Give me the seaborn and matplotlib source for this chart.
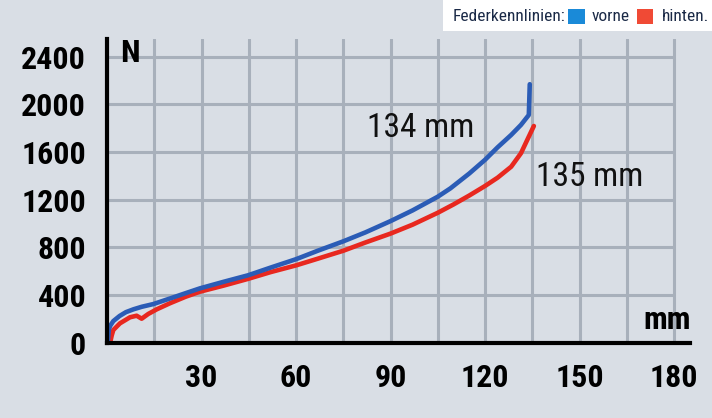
import matplotlib
matplotlib.use("Agg")
import matplotlib.pyplot as plt
from matplotlib import font_manager as fm
from matplotlib.patches import Rectangle
import seaborn as sns
import pandas as pd

# ---------------- data ----------------
front_travel = [0.3, 0.6, 1, 2, 4, 6, 8.4, 11, 14.7, 20, 25, 29.5, 37, 44.8, 52,
                60, 67, 75, 82, 90, 97, 105, 109, 115, 120, 124, 128.3, 131.4,
                133.9, 134.2]
front_force = [20, 110, 140, 180, 223, 255, 279, 300, 323, 370, 415, 455, 510,
               565, 630, 700, 772, 850, 925, 1020, 1110, 1225, 1295, 1420, 1535,
               1640, 1744, 1828, 1912, 2170]

rear_travel = [1, 1.5, 2, 4.1, 7.3, 9.4, 11, 13.1, 15.8, 20, 25, 29.5, 37, 44.8,
               52, 60, 67, 75, 82, 90, 97, 105, 110, 115, 120, 124, 128.3, 131.4,
               133.4, 135.5]
rear_force = [0, 60, 105, 161, 212, 225, 200, 240, 279, 330, 385, 427, 478, 535,
              592, 648, 705, 771, 840, 915, 990, 1090, 1160, 1235, 1315, 1385,
              1477, 1590, 1702, 1819]

x_ticks = [15, 30, 45, 60, 75, 90, 105, 120, 135, 150, 165, 180]
x_tick_labels = ["", "30", "", "60", "", "90", "", "120", "", "150", "", "180"]
y_ticks = [0, 400, 800, 1200, 1600, 2000, 2400]
y_tick_labels = ["0", "400", "800", "1200", "1600", "2000", "2400"]

legend_title = "Federkennlinien:"
series_names = ["vorne", "hinten."]
end_labels = ["134 mm", "135 mm"]
y_unit = "N"
x_unit = "mm"

# ---------------- style ----------------
BG = "#d9dee5"
GRID = "#a8b0bb"
LINE_BLUE = "#2b5cb6"
LINE_RED = "#e8281f"
SQ_BLUE = "#1a8ad8"
SQ_RED = "#f04a35"
TXT_LEG = "#1b2a47"

sns.set_style("white", rc={"axes.facecolor": BG, "figure.facecolor": BG})


def pick_font():
    entries = fm.fontManager.ttflist
    names = {e.name for e in entries}
    for cand in ["Liberation Sans Narrow", "Roboto Condensed", "Open Sans Condensed",
                 "Noto Sans Condensed", "DejaVu Sans Condensed", "Lato Condensed"]:
        if cand in names:
            return dict(family=cand), 1.0
    for pref in ["Roboto", "Noto Sans", "DejaVu Sans", "Open Sans"]:
        for e in entries:
            if e.name == pref and str(e.stretch) in ("condensed", "semi-condensed"):
                return dict(family=pref, stretch=e.stretch), 1.0
    return dict(family="Liberation Sans"), 0.82


FONT, SCALE = pick_font()
plt.rcParams["font.family"] = [FONT["family"], "DejaVu Sans"]
if "stretch" in FONT:
    plt.rcParams["font.stretch"] = FONT["stretch"]

fig = plt.figure(figsize=(7.12, 4.18), dpi=100, facecolor=BG)
ax = fig.add_axes([0.1503, 0.1806, 0.8185, 0.7261])
ax.set_facecolor(BG)

front = pd.DataFrame({"travel": front_travel, "force": front_force})
rear = pd.DataFrame({"travel": rear_travel, "force": rear_force})

sns.lineplot(data=rear, x="travel", y="force", ax=ax, color=LINE_RED, lw=3.3,
             estimator=None, sort=False, zorder=3)
sns.lineplot(data=front, x="travel", y="force", ax=ax, color=LINE_BLUE, lw=3.3,
             estimator=None, sort=False, zorder=3)

ax.set_xlim(0, 185)
ax.set_ylim(0, 2550)
ax.set_xlabel("")
ax.set_ylabel("")

ax.set_axisbelow(True)
ax.set_xticks(x_ticks)
ax.set_xticklabels(x_tick_labels)
ax.set_yticks(y_ticks)
ax.set_yticklabels(y_tick_labels)
ax.grid(axis="x", color=GRID, lw=2.2)
ax.grid(axis="y", visible=False)
ax.hlines(y_ticks[1:], 0, x_ticks[-1], color=GRID, lw=2.2, zorder=0.5)

for s in ["top", "right"]:
    ax.spines[s].set_visible(False)
for s in ["left", "bottom"]:
    ax.spines[s].set_color("black")
    ax.spines[s].set_linewidth(3)
    ax.spines[s].set_zorder(4)

tick_fs = 23 * SCALE
ax.tick_params(axis="both", direction="out", length=6.5, width=4.2, color="black",
               pad=8.5, labelsize=tick_fs, labelcolor="black")
for lab in ax.get_xticklabels() + ax.get_yticklabels():
    lab.set_fontweight("bold")

# axis unit labels
fig.text(0.1826, 0.873, y_unit, ha="center", va="center", fontsize=tick_fs,
         fontweight="bold", color="black")
fig.text(0.9368, 0.2344, x_unit, ha="center", va="center", fontsize=tick_fs,
         fontweight="bold", color="black")

# end-of-travel labels
ax.text(99.7, 1802, end_labels[0], ha="center", va="center", fontsize=24 * SCALE,
        color="#111111")
ax.text(153.3, 1391, end_labels[1], ha="center", va="center", fontsize=24 * SCALE,
        color="#111111")

# legend box (top right)
fig.patches.append(Rectangle((0.6222, 0.9258), 0.3778, 0.0742, transform=fig.transFigure,
                             facecolor="white", edgecolor="none", zorder=1))
leg_fs = 12.5 * SCALE
fig.text(0.6362, 0.9617, legend_title, ha="left", va="center", fontsize=leg_fs,
         color=TXT_LEG)
fig.patches.append(Rectangle((0.7978, 0.9426), 0.0239, 0.0359, transform=fig.transFigure,
                             facecolor=SQ_BLUE, edgecolor="none", zorder=2))
fig.text(0.8315, 0.9617, series_names[0], ha="left", va="center", fontsize=leg_fs,
         color=TXT_LEG)
fig.patches.append(Rectangle((0.8947, 0.9426), 0.0225, 0.0359, transform=fig.transFigure,
                             facecolor=SQ_RED, edgecolor="none", zorder=2))
fig.text(0.9298, 0.9617, series_names[1], ha="left", va="center", fontsize=leg_fs,
         color=TXT_LEG)

fig.savefig("out.png", dpi=100, facecolor=BG)
